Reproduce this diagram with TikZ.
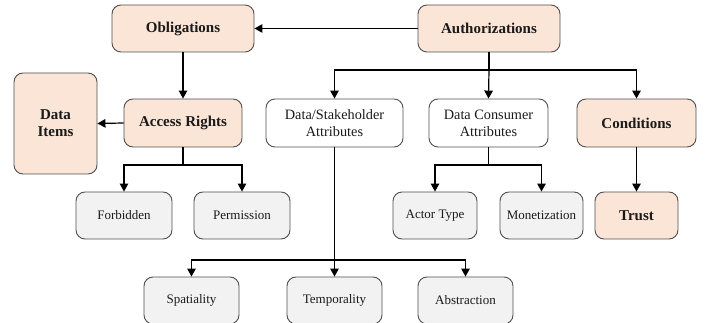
\documentclass[tikz,border=0pt]{standalone}
\usepackage{fontspec}
\setmainfont{Liberation Serif}
\usetikzlibrary{arrows.meta}
\definecolor{peach}{HTML}{FBE5D6}
\definecolor{lightgrey}{HTML}{F2F2F2}
\definecolor{edge}{HTML}{505050}
\definecolor{ink}{HTML}{1A1A1A}
\tikzset{
  box/.style={draw=edge, line width=0.9pt, rounded corners=9pt, inner sep=0pt, align=center, text=ink},
  keybox/.style={box, fill=peach, font=\fontsize{15}{17}\selectfont\bfseries},
  attrbox/.style={box, fill=white, font=\fontsize{14.3}{17}\selectfont},
  leafbox/.style={box, fill=lightgrey, font=\fontsize{13}{16}\selectfont},
  link/.style={line width=1.2pt, black},
  arr/.style={link, -{Triangle[length=8pt,width=8.5pt]}}
}
\begin{document}
\begin{tikzpicture}[x=1pt,y=-1pt]
\useasboundingbox (0,0) rectangle (713,323);

% top level
\node[keybox, minimum width=142pt, minimum height=47pt] (obl) at (183,28.5) {Obligations};
\node[keybox, minimum width=142pt, minimum height=47pt] (auth) at (489,28.5) {Authorizations};

% second level
\node[keybox, minimum width=83pt, minimum height=101pt] (items) at (55.5,123.5) {Data\\Items};
\node[keybox, minimum width=118pt, minimum height=48pt] (rights) at (183,123) {Access Rights};
\node[attrbox, minimum width=137pt, minimum height=48pt] (dsa) at (334.5,123) {Data/Stakeholder\\Attributes};
\node[attrbox, minimum width=119pt, minimum height=48pt] (dca) at (488.5,123) {Data Consumer\\Attributes};
\node[keybox, minimum width=119pt, minimum height=48pt] (cond) at (636.5,123) {Conditions};

% third level
\node[leafbox, minimum width=96pt, minimum height=47pt] (forb) at (124,215.5) {Forbidden};
\node[leafbox, minimum width=96pt, minimum height=47pt] (perm) at (242,215.5) {Permission};
\node[leafbox, minimum width=84pt, minimum height=47pt] (actor) at (435,215.5) {Actor Type};
\node[leafbox, minimum width=83pt, minimum height=47pt] (money) at (541.5,215.5) {Monetization};
\node[keybox, minimum width=83pt, minimum height=47pt] (trust) at (636.5,215.5) {Trust};

% bottom level
\node[leafbox, minimum width=95pt, minimum height=47pt] (spat) at (191.5,300.5) {Spatiality};
\node[leafbox, minimum width=95pt, minimum height=47pt] (temp) at (334.5,300.5) {Temporality};
\node[leafbox, minimum width=95pt, minimum height=47pt] (abst) at (465.5,300.5) {Abstraction};

% junction points of the branching connectors
\coordinate (authbus) at (489,70);
\coordinate (rightsbus) at (183,165);
\coordinate (dcabus) at (488.5,165);
\coordinate (dsabus) at (334.5,260);

% connectors
\draw[arr] (auth.west) -- (obl.east);
\draw[arr] (obl.south) -- (rights.north);
\draw[arr] (rights.west) -- (items.east);

\draw[link] (auth.south) -- (authbus);
\draw[arr] (authbus) -| (dsa.north);
\draw[arr] (authbus) -- (dca.north);
\draw[arr] (authbus) -| (cond.north);

\draw[link] (rights.south) -- (rightsbus);
\draw[arr] (rightsbus) -| (forb.north);
\draw[arr] (rightsbus) -| (perm.north);

\draw[link] (dca.south) -- (dcabus);
\draw[arr] (dcabus) -| (actor.north);
\draw[arr] (dcabus) -| (money.north);

\draw[arr] (cond.south) -- (trust.north);

\draw[link] (dsa.south) -- (dsabus);
\draw[arr] (dsabus) -| (spat.north);
\draw[arr] (dsabus) -- (temp.north);
\draw[arr] (dsabus) -| (abst.north);
\end{tikzpicture}
\end{document}
